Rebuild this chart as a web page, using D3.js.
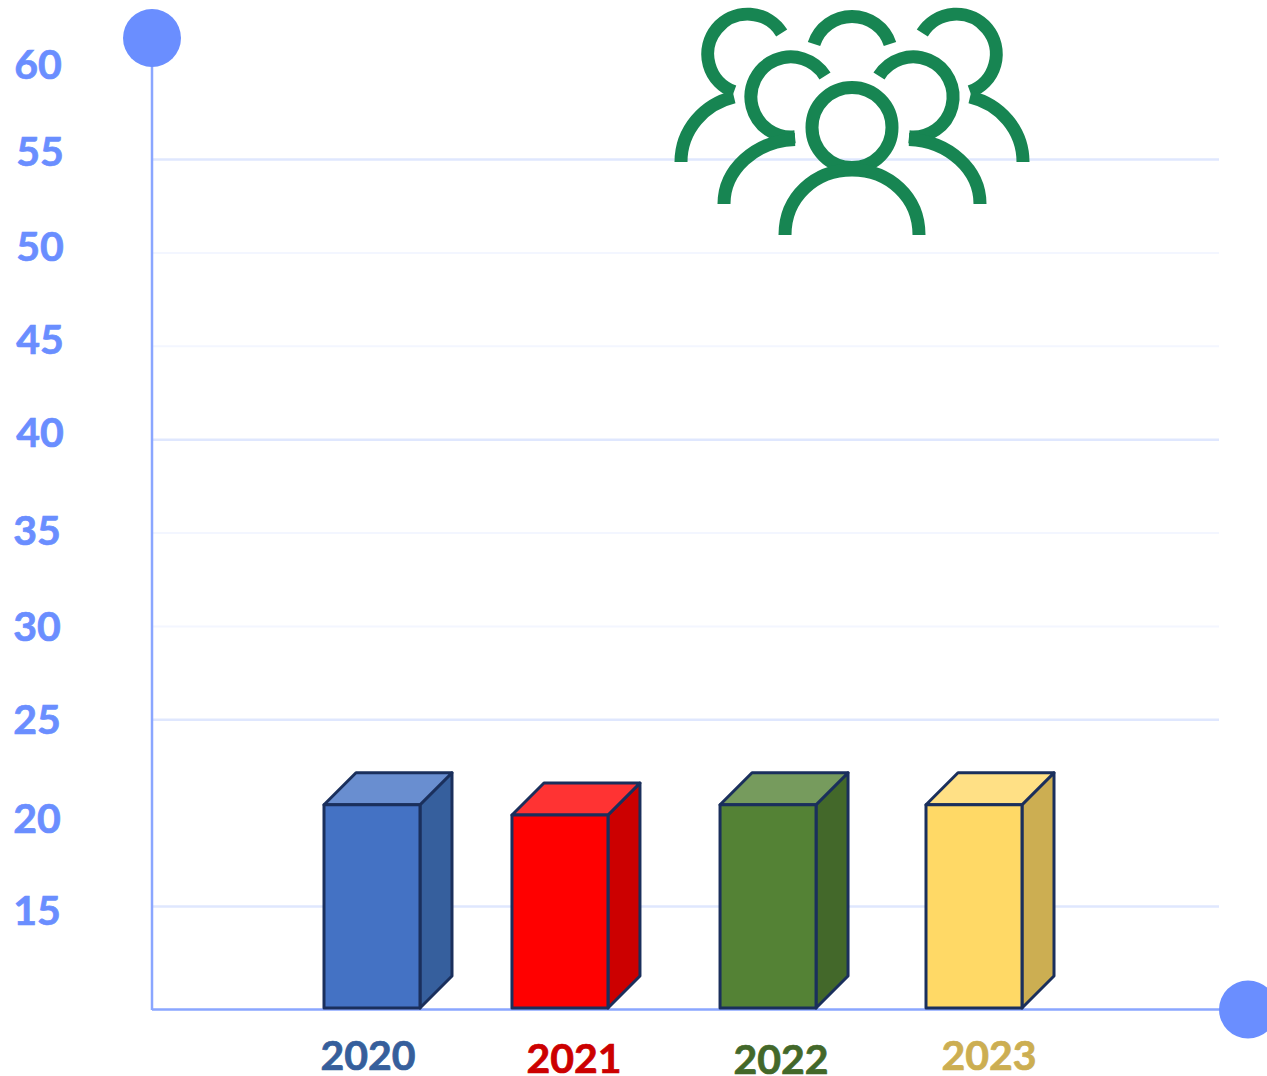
<!DOCTYPE html>
<html>
<head>
<meta charset="utf-8">
<script src="https://cdn.jsdelivr.net/npm/d3@7"></script>
<style>
	body { margin: 0; background: #fff; }
	text { font-family: Lato, "Open Sans", sans-serif; font-weight: 700; }
</style>
</head>
<body>
<script>
// chart values
const years = ["2020", "2021", "2022", "2023"];
const values = [20.45, 19.9, 20.45, 20.45];
const tickValues = [60, 55, 50, 45, 40, 35, 30, 25, 20, 15];
const strongLines = [55, 40, 25, 15];
const faintLines = [50, 45, 35, 30];

// layout, the labels and bars in the original sit a bit off the regular grid
const barNudge = {"2020": 0, "2021": -12.7, "2022": -5.3, "2023": 0};
const yearLabelPos = {"2020": [368, 1070], "2021": [574, 1073], "2022": [781, 1074], "2023": [989, 1070]};
const tickX = {60: 38, 55: 40, 50: 40, 45: 40, 40: 40, 35: 37, 30: 37, 25: 37, 20: 37, 15: 37};
const tickBaseline = {60: 79, 55: 166, 50: 261, 45: 354, 40: 447, 35: 545, 30: 641, 25: 734, 20: 833, 15: 925};
const barColors = {
	"2020": {front: "#4472c4", top: "#698ed0", side: "#365f9d", text: "#365f9c"},
	"2021": {front: "#ff0000", top: "#ff3333", side: "#cc0000", text: "#cc0000"},
	"2022": {front: "#548235", top: "#769b5d", side: "#43682a", text: "#43682a"},
	"2023": {front: "#ffd966", top: "#ffe085", side: "#ccae52", text: "#ccae52"}
};

const width = 1267, height = 1076;
const baseY = 1008, depth = 32, axisX = 152, gridEnd = 1219;
const blue = "#6a8eff", axisBlue = "#8aa6ff", outline = "#1a2f5c", iconGreen = "#178552";

const svg = d3.select("body").append("svg")
	.attr("width", width)
	.attr("height", height)
	.style("display", "block");

const y = d3.scaleLinear().domain([15, 55]).range([906.5, 159.5]);
const x = d3.scaleBand().domain(years).range([324, 1022]).paddingInner(0.5216).paddingOuter(0);

// gridlines
svg.selectAll("line.strong").data(strongLines).join("line")
	.attr("class", "strong")
	.attr("x1", axisX).attr("x2", gridEnd)
	.attr("y1", d => y(d)).attr("y2", d => y(d))
	.attr("stroke", "#dfe7fe").attr("stroke-width", 2.5);

svg.selectAll("line.faint").data(faintLines).join("line")
	.attr("class", "faint")
	.attr("x1", axisX).attr("x2", gridEnd)
	.attr("y1", d => y(d)).attr("y2", d => y(d))
	.attr("stroke", "#f3f6ff").attr("stroke-width", 2);

// the two axis lines with their round ends
svg.append("line")
	.attr("x1", axisX).attr("x2", axisX).attr("y1", 38).attr("y2", 1010)
	.attr("stroke", axisBlue).attr("stroke-width", 2.5);
svg.append("line")
	.attr("x1", axisX).attr("x2", 1225).attr("y1", 1009.5).attr("y2", 1009.5)
	.attr("stroke", axisBlue).attr("stroke-width", 2.5);
svg.append("circle").attr("cx", axisX).attr("cy", 38).attr("r", 29).attr("fill", blue);
svg.append("circle").attr("cx", 1248).attr("cy", 1009.5).attr("r", 29).attr("fill", blue);

// tick labels
svg.selectAll("text.tick").data(tickValues).join("text")
	.attr("class", "tick")
	.attr("x", d => tickX[d])
	.attr("y", d => tickBaseline[d])
	.attr("text-anchor", "middle")
	.attr("font-size", 41)
	.attr("fill", blue)
	.attr("stroke", blue)
	.attr("stroke-width", 0.7)
	.text(d => d);

// 3d bars: side, top, front
const bars = svg.selectAll("g.bar").data(years).join("g")
	.attr("class", "bar")
	.attr("stroke", outline)
	.attr("stroke-width", 3)
	.attr("stroke-linejoin", "round");

const barLeft = d => x(d) + barNudge[d];
const barTop = (d, i) => y(values[i]);
const bw = x.bandwidth();

bars.append("path")
	.attr("fill", d => barColors[d].side)
	.attr("d", (d, i) => {
		const r = barLeft(d) + bw, t = barTop(d, i);
		return d3.line()([[r, t], [r + depth, t - depth], [r + depth, baseY - depth], [r, baseY]]) + "Z";
	});

bars.append("path")
	.attr("fill", d => barColors[d].top)
	.attr("d", (d, i) => {
		const l = barLeft(d), t = barTop(d, i);
		return d3.line()([[l, t], [l + depth, t - depth], [l + bw + depth, t - depth], [l + bw, t]]) + "Z";
	});

bars.append("rect")
	.attr("fill", d => barColors[d].front)
	.attr("x", barLeft)
	.attr("y", barTop)
	.attr("width", bw)
	.attr("height", (d, i) => baseY - barTop(d, i));

// year labels
svg.selectAll("text.year").data(years).join("text")
	.attr("class", "year")
	.attr("x", d => yearLabelPos[d][0])
	.attr("y", d => yearLabelPos[d][1])
	.attr("text-anchor", "middle")
	.attr("font-size", 41)
	.attr("fill", d => barColors[d].text)
	.attr("stroke", d => barColors[d].text)
	.attr("stroke-width", 0.7)
	.text(d => d);

// people icon, left half is mirrored around x = 852
const icon = svg.append("g")
	.attr("fill", "none")
	.attr("stroke", iconGreen)
	.attr("stroke-width", 13);

const halfIcon = [
	"M781.7 33 A40 40 0 1 0 734 91.7",
	"M681 162 C681 130 704 104 734 97",
	"M825 76 A40 40 0 1 0 795 136.7",
	"M724 204 C724 170 755 141 795 139.5"
];
const sides = ["", "translate(1704,0) scale(-1,1)"];
sides.forEach(tr => {
	icon.append("g").attr("transform", tr)
		.selectAll("path").data(halfIcon).join("path").attr("d", d => d);
});
icon.append("path").attr("d", "M814 44 A40 40 0 0 1 890 44");
icon.append("circle").attr("cx", 852).attr("cy", 127.5).attr("r", 40);
icon.append("path").attr("d", "M785 235 C785 197 815 170 852 170 C889 170 919 197 919 235");
</script>
</body>
</html>
